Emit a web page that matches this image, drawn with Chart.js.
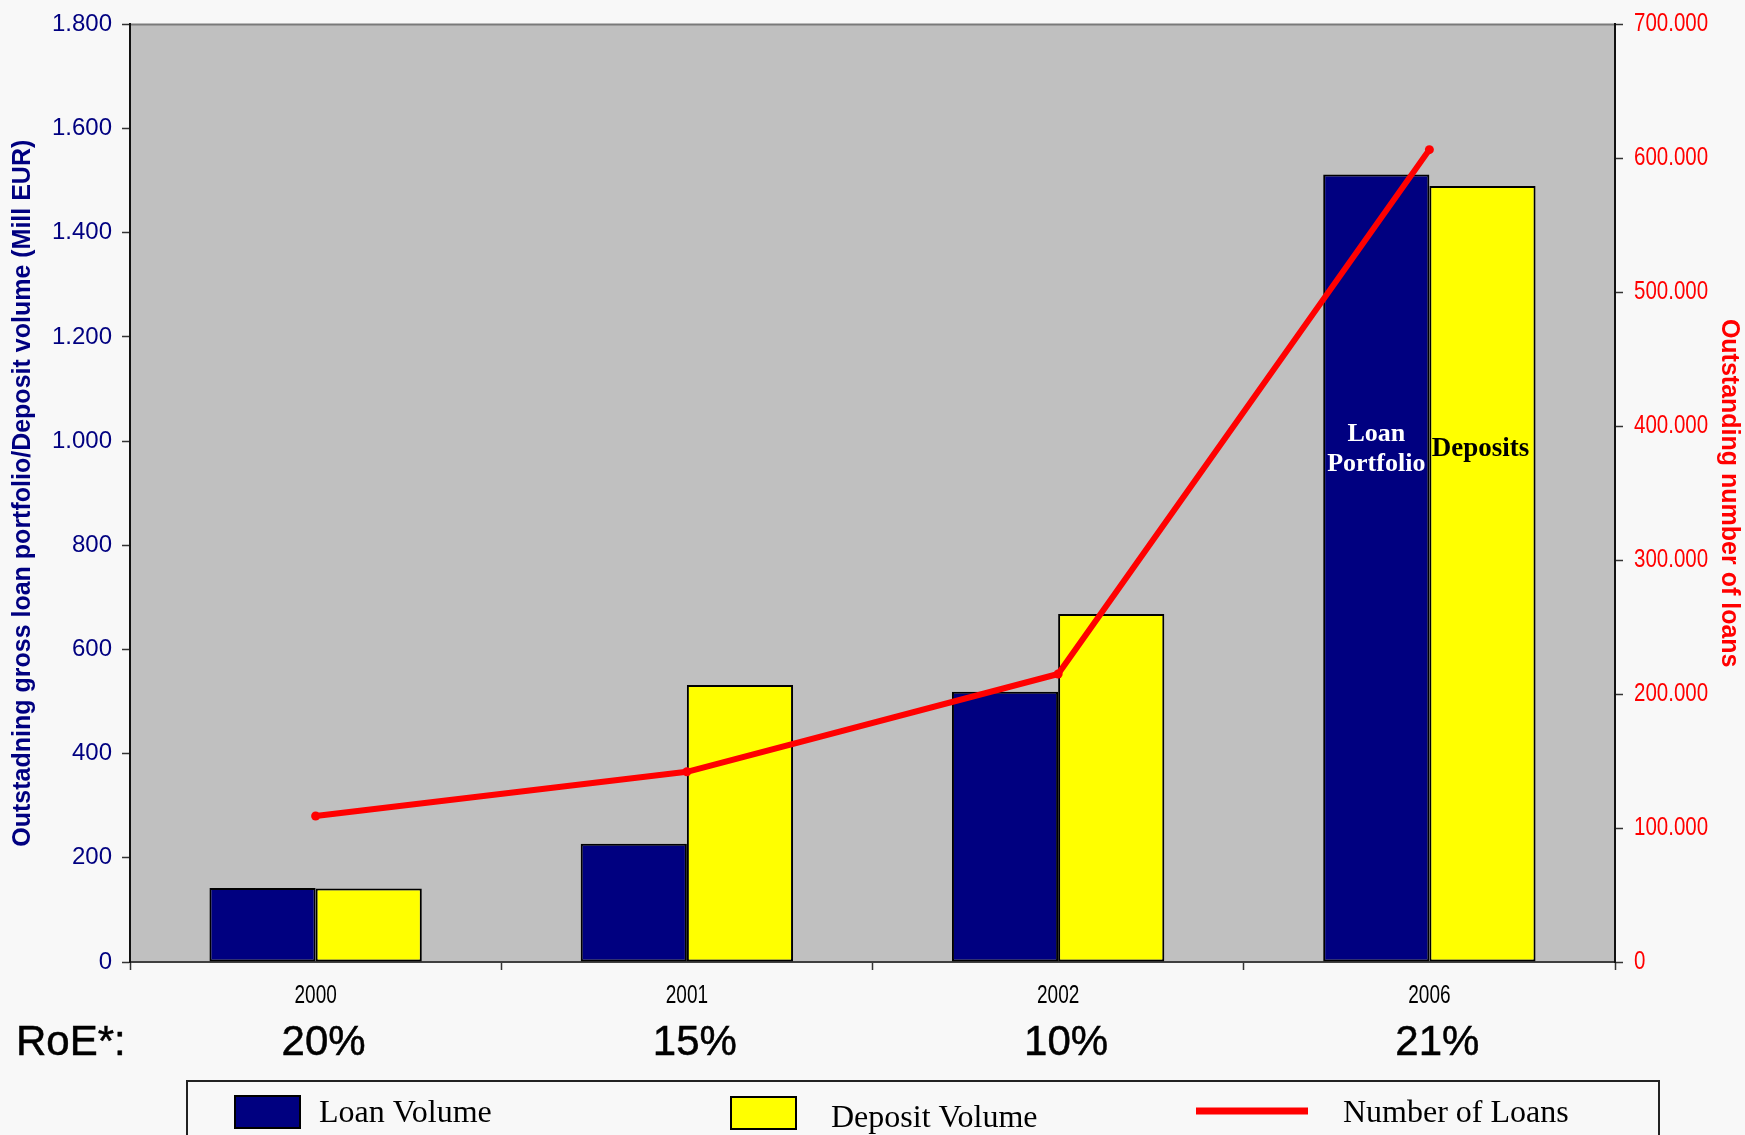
<!DOCTYPE html>
<html lang="en">
  <head>
    <meta charset="UTF-8">
    <title>Loans and deposits</title>
    <script src="https://cdn.jsdelivr.net/npm/chart.js"></script>
    <style>
      html, body { margin: 0; padding: 0; background: #f8f8f8; }
      canvas { display: block; }
    </style>
  </head>
  <body>
    <canvas id="grafico" width="1745" height="1135"></canvas>

    <script>
      const anos = ['2000', '2001', '2002', '2006']
      const volumeEmprestimos = [142, 227, 519, 1512]      // Mill EUR
      const volumeDepositos = [141, 532, 668, 1490]         // Mill EUR
      const numeroEmprestimos = [109000, 142000, 215000, 606500]
      const roe = ['20%', '15%', '10%', '21%']

      const sans = "'Liberation Sans', Arial, sans-serif"
      const serif = "'Liberation Serif', 'Times New Roman', serif"

      // 1800 -> "1.800", 700000 -> "700.000"
      const milhar = v => String(v).replace(/\B(?=(\d{3})+(?!\d))/g, '.')

      // texto estreito (fonte condensada na horizontal)
      const estreito = (ctx, s, x, y, sx) => {
        ctx.save()
        ctx.translate(x, y)
        ctx.scale(sx, 1)
        ctx.fillText(s, 0, 0)
        ctx.restore()
      }

      const extras = {
        id: 'extras',
        beforeDraw(chart) {
          const { ctx, chartArea: a } = chart
          ctx.save()
          ctx.fillStyle = '#f8f8f8'
          ctx.fillRect(0, 0, chart.width, chart.height)
          ctx.fillStyle = '#c0c0c0'
          ctx.fillRect(a.left, a.top, a.right - a.left, a.bottom - a.top)
          ctx.strokeStyle = '#7a7a7a'
          ctx.lineWidth = 2
          ctx.beginPath()
          ctx.moveTo(a.left, a.top)
          ctx.lineTo(a.right, a.top)
          ctx.stroke()
          ctx.restore()
        },
        afterDatasetsDraw(chart) {
          const { ctx } = chart
          const y = chart.scales.y
          const barLoan = chart.getDatasetMeta(0).data[3]
          const barDep = chart.getDatasetMeta(1).data[3]
          ctx.save()
          ctx.textAlign = 'center'
          ctx.textBaseline = 'middle'
          ctx.font = 'bold 26px ' + serif
          ctx.fillStyle = '#ffffff'
          ctx.fillText('Loan', barLoan.x, y.getPixelForValue(1013))
          ctx.fillText('Portfolio', barLoan.x, y.getPixelForValue(955))
          ctx.font = 'bold 27px ' + serif
          ctx.fillStyle = '#000000'
          ctx.fillText('Deposits', barDep.x - 2, y.getPixelForValue(984))
          ctx.restore()
        },
        afterDraw(chart) {
          const { ctx } = chart
          const x = chart.scales.x
          const y1 = chart.scales.y1
          ctx.save()

          // rótulos do eixo direito e dos anos, em letra estreita
          ctx.textBaseline = 'middle'
          ctx.font = '25px ' + sans
          ctx.fillStyle = '#ff0000'
          ctx.textAlign = 'left'
          y1.ticks.forEach(t => {
            estreito(ctx, milhar(t.value), y1.left + 19, y1.getPixelForValue(t.value), 0.82)
          })
          ctx.font = '25px ' + sans
          ctx.fillStyle = '#000'
          ctx.textAlign = 'center'
          anos.forEach((a, i) => {
            estreito(ctx, a, x.getPixelForValue(i), 996, 0.76)
          })

          // linha de RoE abaixo dos anos
          ctx.fillStyle = '#000'
          ctx.strokeStyle = '#000'
          ctx.lineWidth = 0.5
          ctx.font = '42px ' + sans
          ctx.textAlign = 'left'
          ctx.fillText('RoE*:', 16, 1043)
          ctx.strokeText('RoE*:', 16, 1043)
          ctx.textAlign = 'center'
          roe.forEach((r, i) => {
            const px = x.getPixelForValue(i) + 8
            ctx.fillText(r, px, 1043)
            ctx.strokeText(r, px, 1043)
          })

          // legenda
          ctx.strokeStyle = '#222'
          ctx.lineWidth = 2
          ctx.strokeRect(187, 1081, 1472, 90)

          ctx.fillStyle = '#000080'
          ctx.fillRect(235, 1096, 65, 32)
          ctx.strokeStyle = '#000'
          ctx.strokeRect(235, 1096, 65, 32)

          ctx.fillStyle = '#ffff00'
          ctx.fillRect(731, 1097, 65, 32)
          ctx.strokeRect(731, 1097, 65, 32)

          ctx.strokeStyle = '#ff0000'
          ctx.lineWidth = 7
          ctx.beginPath()
          ctx.moveTo(1196, 1111)
          ctx.lineTo(1308, 1111)
          ctx.stroke()

          ctx.fillStyle = '#000'
          ctx.textAlign = 'left'
          ctx.textBaseline = 'alphabetic'
          ctx.font = '32px ' + serif
          ctx.fillText('Loan Volume', 319, 1122)
          ctx.fillText('Deposit Volume', 831, 1127)
          ctx.fillText('Number of Loans', 1343, 1122)
          ctx.restore()
        }
      }

      const ctx = document.getElementById('grafico')

      const grafico = new Chart(ctx, {
        data: {
          labels: anos,
          datasets: [
            {
              type: 'bar',
              label: 'Loan Volume',
              data: volumeEmprestimos,
              backgroundColor: '#000080',
              borderColor: '#000',
              borderWidth: 2,
              borderSkipped: false,
              categoryPercentage: 0.572,
              barPercentage: 1,
              yAxisID: 'y',
              order: 2
            },
            {
              type: 'bar',
              label: 'Deposit Volume',
              data: volumeDepositos,
              backgroundColor: '#ffff00',
              borderColor: '#000',
              borderWidth: 2,
              borderSkipped: false,
              categoryPercentage: 0.572,
              barPercentage: 1,
              yAxisID: 'y',
              order: 2
            },
            {
              type: 'line',
              label: 'Number of Loans',
              data: numeroEmprestimos,
              borderColor: '#ff0000',
              backgroundColor: '#ff0000',
              borderWidth: 6,
              borderCapStyle: 'round',
              borderJoinStyle: 'round',
              pointRadius: 4.5,
              pointBorderWidth: 0,
              tension: 0,
              yAxisID: 'y1',
              order: 1
            }
          ]
        },
        options: {
          responsive: false,
          animation: false,
          devicePixelRatio: 1,
          layout: { padding: { top: 22, left: 0, right: 0, bottom: 0 } },
          plugins: {
            legend: { display: false },
            tooltip: { enabled: false }
          },
          scales: {
            x: {
              grid: {
                offset: true,
                drawOnChartArea: false,
                tickLength: 8,
                tickColor: '#333',
                tickWidth: 1.5
              },
              border: { color: '#404040', width: 2 },
              // desenhados pelo plugin, em letra estreita
              ticks: { color: 'rgba(0,0,0,0)', font: { family: sans, size: 20 }, padding: 16 },
              afterFit(s) { s.height = 1135 - 962 }
            },
            y: {
              position: 'left',
              min: 0,
              max: 1800,
              grid: { drawOnChartArea: false, tickLength: 8, tickColor: '#333', tickWidth: 1.5 },
              border: { color: '#111', width: 2 },
              ticks: {
                stepSize: 200,
                color: '#000080',
                font: { family: sans, size: 24 },
                padding: 10,
                callback: v => milhar(v)
              },
              title: {
                display: true,
                text: 'Outstadning gross loan portfolio/Deposit volume (Mill EUR)',
                color: '#000080',
                font: { family: sans, size: 25, weight: 'bold' },
                padding: { top: 8, bottom: 0 }
              },
              afterFit(s) { s.width = 130 }
            },
            y1: {
              position: 'right',
              min: 0,
              max: 700000,
              grid: { drawOnChartArea: false, tickLength: 8, tickColor: '#333', tickWidth: 1.5 },
              border: { color: '#111', width: 2 },
              ticks: {
                stepSize: 100000,
                color: 'rgba(0,0,0,0)',
                font: { family: sans, size: 21 },
                padding: 11,
                callback: v => milhar(v)
              },
              title: {
                display: true,
                text: 'Outstanding number of loans',
                color: '#ff0000',
                font: { family: sans, size: 25, weight: 'bold' },
                padding: { top: 1, bottom: 0 }
              },
              afterFit(s) { s.width = 130 }
            }
          }
        },
        plugins: [extras]
      })
    </script>
  </body>
</html>
